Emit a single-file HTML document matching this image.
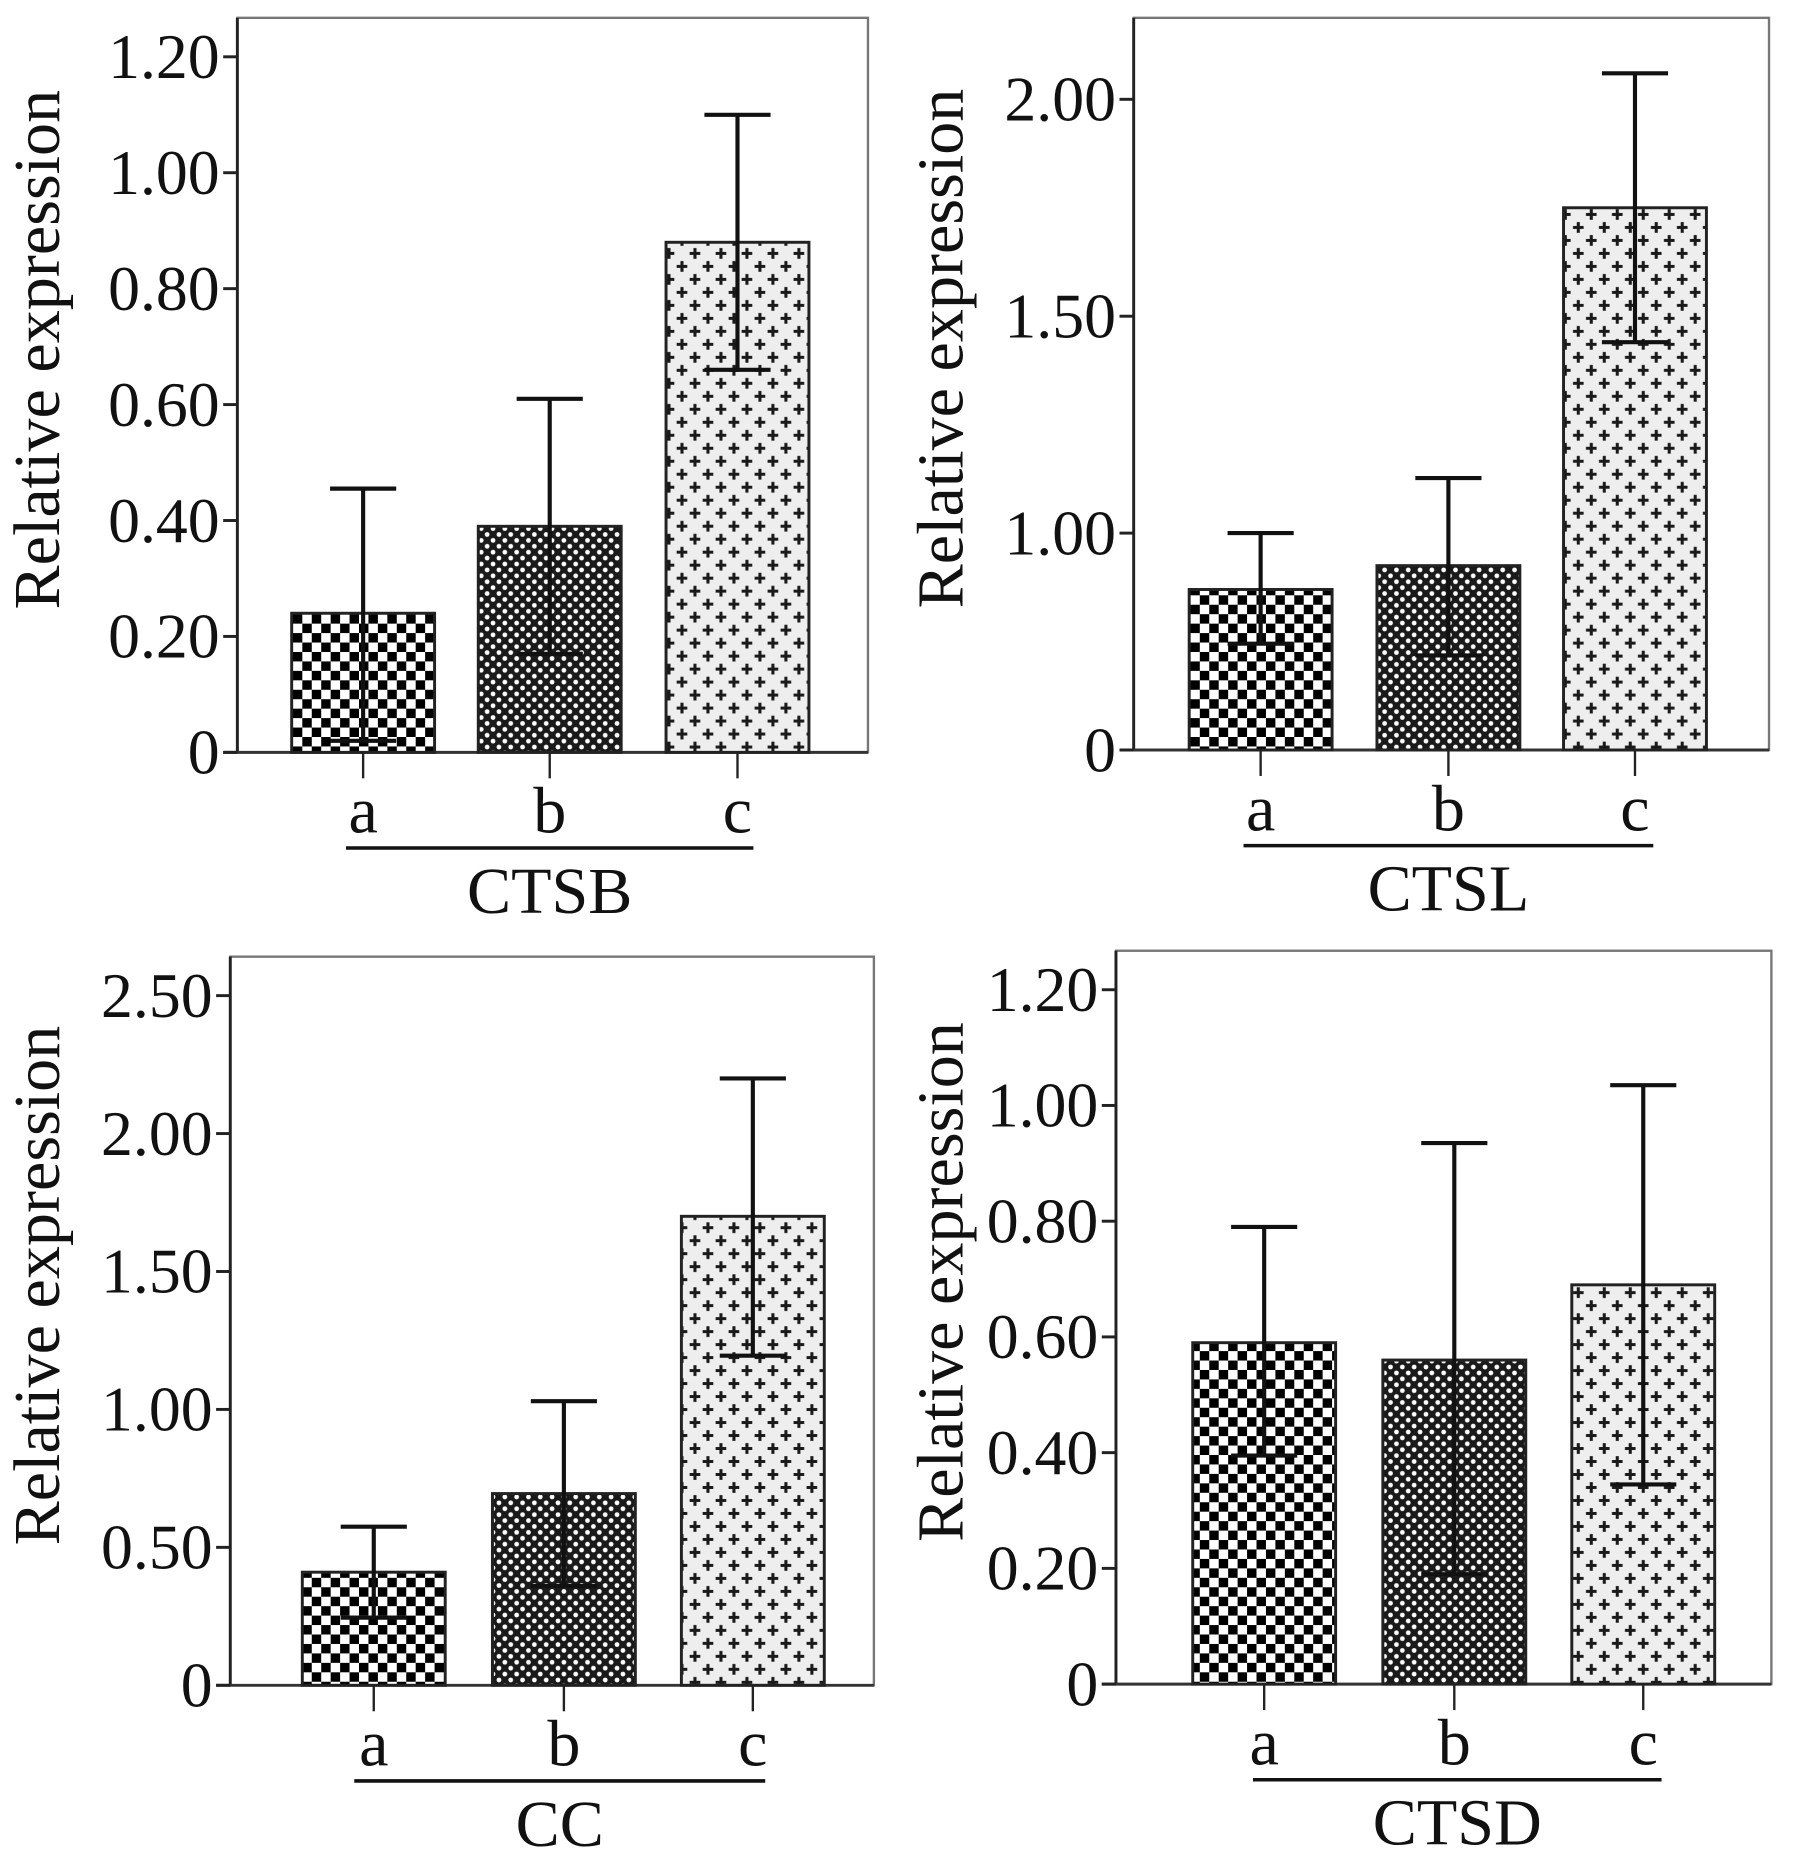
<!DOCTYPE html>
<html><head><meta charset="utf-8"><style>
html,body{margin:0;padding:0;background:#fff}
svg{display:block}
text{font-family:"Liberation Serif",serif;fill:#111}
</style></head><body>
<svg id="chart" width="1795" height="1859" viewBox="0 0 1520 1574" xmlns="http://www.w3.org/2000/svg">
<defs>
<pattern id="patA" width="16" height="16" patternUnits="userSpaceOnUse">
<rect width="16" height="16" fill="#fff"/><rect width="8" height="8" fill="#000"/><rect x="8" y="8" width="8" height="8" fill="#000"/></pattern>
<pattern id="patB" width="10" height="10" patternUnits="userSpaceOnUse">
<rect width="10" height="10" fill="#1a1a1a"/><circle cx="2.5" cy="2.5" r="2" fill="#fff"/><circle cx="7.5" cy="7.5" r="2" fill="#fff"/></pattern>
<pattern id="patC" width="22" height="22" patternUnits="userSpaceOnUse">
<rect width="22" height="22" fill="#eee"/>
<path d="M5.5 1v9M1 5.5h9M16.5 12v9M12 16.5h9" stroke="#1a1a1a" stroke-width="2.6"/></pattern>
</defs>
</svg>
<script>
// CTSB
const ctsbCats=['a','b','c'];
const ctsbMeans=[0.24,0.39,0.88];
const ctsbUpper=[0.455,0.61,1.10];
const ctsbLower=[0.02,0.17,0.66];
const ctsbTicks=[0,0.2,0.4,0.6,0.8,1.0,1.2];
const ctsbTickLabels=['0','0.20','0.40','0.60','0.80','1.00','1.20'];
// CTSL
const ctslCats=['a','b','c'];
const ctslMeans=[0.87,0.925,1.75];
const ctslUpper=[1.00,1.127,2.06];
const ctslLower=[0.745,0.718,1.44];
const ctslTicks=[0.5,1.0,1.5,2.0];
const ctslTickLabels=['0','1.00','1.50','2.00'];
// CC
const ccCats=['a','b','c'];
const ccMeans=[0.41,0.695,1.70];
const ccUpper=[0.575,1.03,2.20];
const ccLower=[0.245,0.36,1.195];
const ccTicks=[0,0.5,1.0,1.5,2.0,2.5];
const ccTickLabels=['0','0.50','1.00','1.50','2.00','2.50'];
// CTSD
const ctsdCats=['a','b','c'];
const ctsdMeans=[0.59,0.56,0.69];
const ctsdUpper=[0.79,0.935,1.035];
const ctsdLower=[0.395,0.19,0.345];
const ctsdTicks=[0,0.2,0.4,0.6,0.8,1.0,1.2];
const ctsdTickLabels=['0','0.20','0.40','0.60','0.80','1.00','1.20'];

const NS='http://www.w3.org/2000/svg';
const svg=document.getElementById('chart');
function mk(tag,attrs,parent){const e=document.createElementNS(NS,tag);for(const k in attrs)e.setAttribute(k,attrs[k]);(parent||svg).appendChild(e);return e;}

function panel(p){
  const g=mk('g',{});
  
  
  const y=v=>p.bottom-(v-p.v0)*(p.bottom-p.tickTopY)/(p.vTop-p.v0);
  const frame=mk('rect',{x:p.left,y:p.top,width:p.right-p.left,height:p.bottom-p.top,fill:'none',stroke:'#777','stroke-width':2},g);
  
  
  const ax=mk('line',{x1:p.left,y1:p.top,x2:p.left,y2:p.bottom+1,stroke:'#222','stroke-width':2.5},g);
  
  
  const bx=mk('line',{x1:p.left-12,y1:p.bottom,x2:p.right,y2:p.bottom,stroke:'#333','stroke-width':2.5},g);
  
  
  p.ticks.forEach((t,i)=>{
    const tk=mk('line',{x1:p.left-12,y1:y(t),x2:p.left,y2:y(t),stroke:'#222','stroke-width':2.5},g);
    
    
    const tl=mk('text',{x:p.left-15,y:y(t)+18,'text-anchor':'end','font-size':54},g);
    tl.textContent=p.tickLabels[i];
    
    
  });
  const yt=mk('text',{transform:`translate(${p.titleX},${(p.top+p.bottom)/2-30}) rotate(-90)`,'text-anchor':'middle','font-size':56},g);
  yt.textContent='Relative expression';
  
  
  const fills=['url(#patA)','url(#patB)','url(#patC)'];
  p.cats.forEach((c,i)=>{
    const x0=p.barX[i], w=121, cx=x0+w/2;
    const bar=mk('rect',{x:x0,y:y(p.means[i]),width:w,height:p.bottom-y(p.means[i]),fill:fills[i],stroke:'#222','stroke-width':2.5},g);
    
    
    const eb=mk('path',{d:`M${cx} ${y(p.lower[i])}V${y(p.upper[i])}M${cx-28} ${y(p.upper[i])}h56M${cx-28} ${y(p.lower[i])}h56`,stroke:'#111','stroke-width':3.5,fill:'none'},g);
    
    
    const xt=mk('line',{x1:cx,y1:p.bottom,x2:cx,y2:p.bottom+22,stroke:'#222','stroke-width':2},g);
    
    
    const xl=mk('text',{x:cx,y:p.bottom+68,'text-anchor':'middle','font-size':56},g);
    xl.textContent=c;
    
    
  });
  const ul=mk('line',{x1:p.ulX1,y1:p.bottom+81,x2:p.ulX2,y2:p.bottom+81,stroke:'#111','stroke-width':3},g);
  
  
  const gl=mk('text',{x:(p.ulX1+p.ulX2)/2,y:p.bottom+136,'text-anchor':'middle','font-size':56},g);
  gl.textContent=p.id.toUpperCase();
  
  
}
panel({id:'ctsb',left:201,top:15,right:735,bottom:637,v0:0,vTop:1.2,tickTopY:48,titleX:50,
  cats:ctsbCats,means:ctsbMeans,upper:ctsbUpper,lower:ctsbLower,ticks:ctsbTicks,tickLabels:ctsbTickLabels,
  barX:[247,405,564],ulX1:293,ulX2:638});
panel({id:'ctsl',left:960,top:15,right:1498,bottom:635,v0:0.5,vTop:2.0,tickTopY:84,titleX:815,
  cats:ctslCats,means:ctslMeans,upper:ctslUpper,lower:ctslLower,ticks:ctslTicks,tickLabels:ctslTickLabels,
  barX:[1007,1166,1324],ulX1:1053,ulX2:1400});
panel({id:'cc',left:195,top:810,right:740,bottom:1427,v0:0,vTop:2.5,tickTopY:843,titleX:50,
  cats:ccCats,means:ccMeans,upper:ccUpper,lower:ccLower,ticks:ccTicks,tickLabels:ccTickLabels,
  barX:[256,417,577],ulX1:300,ulX2:648});
panel({id:'ctsd',left:945,top:805,right:1500,bottom:1426,v0:0,vTop:1.2,tickTopY:838,titleX:815,
  cats:ctsdCats,means:ctsdMeans,upper:ctsdUpper,lower:ctsdLower,ticks:ctsdTicks,tickLabels:ctsdTickLabels,
  barX:[1010,1171,1331],ulX1:1061,ulX2:1407});
</script>
</body></html>
